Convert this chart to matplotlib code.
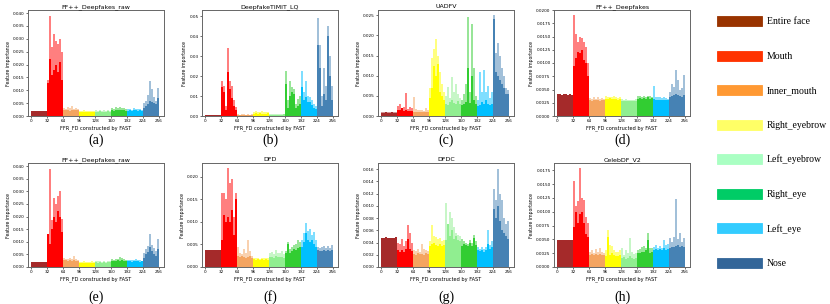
import matplotlib
matplotlib.use("Agg")
import matplotlib.pyplot as plt
import numpy as np
from matplotlib.patches import Patch
from matplotlib.ticker import MultipleLocator, FormatStrFormatter

# feature importance, in units of 1e-4, one value per group of 4 features (64 groups)
regions = ["Entire face", "Mouth", "Inner_mouth", "Right_eyebrow",
           "Left_eyebrow", "Right_eye", "Left_eye", "Nose"]
bar_colors = ["brown", "red", "sandybrown", "yellow",
              "lightgreen", "limegreen", "deepskyblue", "steelblue"]
legend_colors = ["#993300", "#FF3300", "#FF9933", "#FFFF66",
                 "#AAFFC3", "#00CC66", "#33CCFF", "#336699"]
titles = ["FF++_Deepfakes_raw", "DeepfakeTIMIT_LQ", "UADFV", "FF++_Deepfakes",
          "FF++_Deepfakes_raw", "DFD", "DFDC", "CelebDF_V2"]
captions = ["(a)", "(b)", "(c)", "(d)", "(e)", "(f)", "(g)", "(h)"]
xticks = [0, 32, 64, 96, 128, 160, 192, 224, 256]

a_hi = [20, 20, 20, 20, 21, 20, 20, 21, 140, 390, 270, 320, 290, 280, 300, 250,
        32, 28, 35, 30, 38, 27, 30, 26, 20, 18, 22, 19, 21, 18, 20, 19,
        22, 20, 24, 21, 22, 20, 23, 21, 30, 28, 34, 30, 36, 32, 30, 28,
        27, 28, 25, 30, 27, 26, 28, 25, 50, 60, 80, 137, 104, 75, 60, 108]
a_lo = [20, 20, 20, 20, 21, 20, 20, 21, 130, 220, 160, 180, 200, 170, 210, 140,
        25, 22, 24, 21, 23, 22, 24, 22, 16, 15, 17, 15, 16, 15, 16, 15,
        17, 16, 18, 17, 16, 17, 18, 16, 22, 21, 24, 22, 25, 23, 22, 21,
        21, 22, 20, 23, 22, 21, 22, 20, 30, 40, 45, 60, 55, 50, 45, 70]

b_hi = [6, 6, 6, 6, 6, 6, 6, 6, 177, 150, 50, 340, 177, 148, 80, 46,
        8, 7, 9, 8, 7, 8, 7, 8, 20, 25, 18, 22, 25, 20, 18, 22,
        9, 8, 10, 9, 8, 9, 9, 11, 226, 80, 177, 144, 136, 60, 87, 100,
        226, 120, 177, 100, 95, 80, 60, 50, 490, 357, 100, 240, 150, 450, 300, 150]
b_lo = [5, 5, 5, 5, 5, 5, 5, 5, 144, 120, 30, 220, 136, 90, 50, 30,
        6, 5, 6, 6, 5, 6, 5, 6, 12, 15, 10, 14, 12, 12, 10, 13,
        6, 6, 7, 6, 6, 7, 6, 8, 160, 40, 100, 120, 110, 40, 50, 60,
        144, 80, 95, 70, 70, 55, 40, 35, 357, 240, 50, 110, 80, 400, 200, 80]

c_hi = [10, 10, 11, 10, 10, 11, 10, 10, 25, 30, 20, 22, 57, 18, 22, 20,
        48, 18, 15, 14, 16, 13, 20, 15, 70, 144, 165, 190, 150, 110, 80, 60,
        50, 73, 45, 98, 60, 80, 55, 45, 40, 55, 80, 245, 60, 228, 120, 50,
        40, 110, 60, 115, 60, 75, 45, 60, 250, 157, 180, 150, 120, 100, 70, 65]
c_lo = [8, 8, 9, 8, 8, 9, 8, 8, 15, 15, 20, 12, 14, 12, 13, 12,
        10, 10, 11, 10, 9, 10, 11, 10, 45, 70, 123, 100, 130, 60, 50, 40,
        30, 28, 35, 40, 32, 30, 38, 30, 28, 30, 35, 118, 32, 100, 40, 30,
        25, 28, 35, 30, 40, 30, 28, 30, 240, 110, 100, 90, 80, 70, 55, 55]

d_hi = [41, 41, 40, 41, 41, 40, 41, 40, 190, 155, 140, 150, 148, 140, 130, 100,
        34, 33, 36, 33, 35, 32, 34, 33, 37, 36, 36, 35, 37, 35, 34, 36,
        32, 31, 32, 30, 31, 30, 31, 32, 37, 38, 36, 37, 36, 38, 37, 36,
        56, 36, 35, 36, 34, 35, 34, 33, 45, 61, 55, 86, 68, 50, 52, 77]
d_lo = [41, 41, 40, 41, 41, 40, 41, 40, 95, 110, 120, 118, 125, 105, 100, 75,
        30, 29, 31, 30, 30, 29, 30, 30, 33, 32, 34, 32, 33, 32, 31, 33,
        29, 28, 29, 28, 29, 28, 28, 29, 33, 34, 32, 34, 33, 35, 33, 34,
        32, 31, 30, 31, 30, 30, 31, 30, 35, 38, 40, 42, 40, 38, 36, 40]

e_hi = [19, 20, 20, 19, 20, 20, 20, 20, 130, 390, 188, 275, 250, 280, 300, 190,
        35, 32, 30, 36, 30, 42, 33, 28, 21, 20, 22, 19, 21, 20, 22, 20,
        23, 22, 24, 21, 22, 21, 23, 22, 30, 29, 32, 33, 38, 35, 30, 29,
        27, 26, 28, 27, 30, 26, 27, 25, 55, 70, 85, 132, 87, 75, 65, 110]
e_lo = [19, 20, 20, 19, 20, 20, 20, 20, 129, 90, 150, 200, 180, 220, 200, 140,
        28, 26, 25, 27, 24, 26, 25, 23, 17, 16, 17, 16, 17, 16, 17, 16,
        18, 17, 18, 17, 18, 17, 18, 18, 24, 25, 23, 26, 25, 27, 24, 23,
        22, 23, 21, 22, 23, 22, 21, 22, 35, 50, 60, 80, 65, 50, 45, 70]

f_hi = [37, 37, 37, 38, 37, 37, 37, 38, 164, 164, 150, 220, 187, 195, 110, 164,
        45, 30, 28, 41, 32, 61, 35, 25, 20, 19, 21, 18, 20, 19, 21, 19,
        30, 34, 28, 37, 30, 32, 35, 28, 35, 55, 40, 45, 48, 50, 61, 55,
        60, 75, 97, 80, 85, 70, 78, 60, 45, 42, 44, 47, 43, 46, 42, 49]
f_lo = [37, 37, 37, 38, 37, 37, 37, 38, 60, 116, 100, 110, 100, 127, 70, 150,
        25, 22, 24, 22, 21, 22, 24, 20, 17, 16, 17, 15, 17, 16, 17, 16,
        22, 23, 21, 24, 22, 23, 22, 21, 30, 50, 32, 35, 40, 38, 42, 45,
        45, 55, 75, 60, 55, 60, 50, 45, 37, 35, 36, 38, 35, 37, 36, 38]

g_hi = [48, 47, 49, 48, 47, 48, 47, 49, 40, 38, 45, 35, 42, 68, 55, 40,
        28, 26, 30, 25, 38, 30, 27, 26, 42, 68, 50, 49, 45, 48, 42, 44,
        104, 70, 90, 80, 65, 55, 52, 50, 46, 42, 40, 38, 44, 40, 53, 42,
        32, 30, 33, 29, 32, 60, 36, 42, 128, 110, 160, 120, 110, 80, 70, 75]
g_lo = [48, 47, 49, 48, 47, 48, 47, 49, 28, 25, 27, 24, 30, 45, 30, 26,
        22, 20, 23, 21, 22, 20, 23, 22, 35, 38, 40, 36, 35, 38, 34, 36,
        44, 70, 50, 60, 45, 50, 44, 42, 35, 38, 36, 34, 40, 35, 48, 36,
        27, 26, 28, 25, 27, 38, 30, 32, 95, 80, 100, 75, 60, 55, 50, 45]

h_hi = [48, 48, 48, 49, 48, 48, 48, 48, 155, 110, 120, 179, 125, 122, 90, 80,
        27, 30, 26, 32, 28, 34, 27, 26, 30, 66, 40, 38, 30, 28, 27, 30,
        34, 22, 30, 25, 52, 28, 24, 26, 30, 32, 36, 38, 34, 61, 35, 34,
        36, 40, 35, 38, 34, 49, 40, 42, 52, 45, 55, 123, 50, 61, 45, 52]
h_lo = [48, 48, 48, 49, 48, 48, 48, 48, 73, 100, 80, 95, 100, 80, 60, 55,
        22, 23, 21, 24, 22, 23, 22, 21, 20, 55, 22, 25, 21, 20, 19, 22,
        16, 18, 15, 17, 20, 16, 15, 17, 25, 26, 28, 27, 30, 49, 26, 28,
        31, 33, 30, 32, 31, 35, 30, 32, 35, 37, 36, 38, 40, 36, 38, 37]

y_max = [0.0412, 0.053, 0.0263, 0.0200, 0.0412, 0.0231, 0.0170, 0.0188]
y_step = [0.005, 0.01, 0.005, 0.0025, 0.005, 0.005, 0.002, 0.0025]
y_fmt = ["%.3f", "%.2f", "%.3f", "%.4f", "%.3f", "%.3f", "%.3f", "%.4f"]

his = [a_hi, b_hi, c_hi, d_hi, e_hi, f_hi, g_hi, h_hi]
los = [a_lo, b_lo, c_lo, d_lo, e_lo, f_lo, g_lo, h_lo]

fig = plt.figure(figsize=(8.3, 3.04), dpi=100)

lefts = [28, 202, 378, 554]
x = np.arange(0, 256, 4)
seg = np.arange(64) // 8
cols = [bar_colors[s] for s in seg]

for k in range(8):
    row, col = divmod(k, 4)
    if row == 0:
        rect = [lefts[col] / 830, 1 - 116 / 304, 136 / 830, 106 / 304]
    else:
        rect = [lefts[col] / 830, 1 - 267 / 304, 136 / 830, 104 / 304]
    ax = fig.add_axes(rect)
    hi = np.array(his[k]) * 1e-4
    lo = np.array(los[k]) * 1e-4
    ax.bar(x, hi, width=4, align="edge", color=cols, alpha=0.5, linewidth=0)
    ax.bar(x, lo, width=4, align="edge", color=cols, linewidth=0)
    ax.set_xlim(-6, 266)
    ax.set_ylim(0, y_max[k])
    ax.set_xticks(xticks)
    ax.yaxis.set_major_locator(MultipleLocator(y_step[k]))
    ax.yaxis.set_major_formatter(FormatStrFormatter(y_fmt[k]))
    ax.tick_params(labelsize=3, length=1.5, width=0.4, pad=1)
    for sp in ax.spines.values():
        sp.set_color("#666666")
        sp.set_linewidth(0.7)
    ax.set_title(titles[k], fontsize=4.5, pad=1.5)
    ax.set_xlabel("FFR_FD constructed by FAST", fontsize=3.6, labelpad=1)
    ax.set_ylabel("Feature importance", fontsize=3.3, labelpad=1.5)
    cy = 1 - 140 / 304 if row == 0 else 1 - 297 / 304
    fig.text((lefts[col] + 68) / 830, cy, captions[k], ha="center", va="center",
             fontsize=10, family="Liberation Serif")

handles = [Patch(facecolor=c, edgecolor=c, alpha=1.0, linewidth=0.6) for c in legend_colors]
fig.legend(handles, regions, loc="upper left", bbox_to_anchor=(717 / 830, 1 - 16 / 304),
           frameon=False, prop={"family": "Liberation Serif", "size": 7},
           handlelength=4.6, handleheight=1.25, handletextpad=0.5,
           labelspacing=2.48, borderpad=0, borderaxespad=0)

fig.savefig("out.png", dpi=100)
